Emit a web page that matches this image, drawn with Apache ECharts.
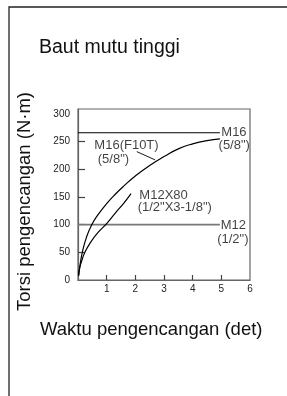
<!DOCTYPE html>
<html>
<head>
<meta charset="utf-8">
<script src="https://cdn.jsdelivr.net/npm/echarts@6/dist/echarts.min.js"></script>
<style>
  html, body { margin: 0; padding: 0; background: #fff; }
  #chart { width: 287px; height: 396px; }
</style>
</head>
<body>
<div id="chart"></div>
<script>
// curva torsi vs waktu
const m16CurveX = [0.02, 0.08, 0.15, 0.3, 0.48, 0.7, 1.0, 1.3, 1.6, 2.0, 2.5, 3.0, 3.5, 4.0, 4.5, 4.95];
const m16CurveY = [8, 30, 50, 78, 100, 118, 138, 155, 170, 188, 207, 223, 237, 246, 252, 255];
const m12CurveX = [0.02, 0.06, 0.12, 0.24, 0.45, 0.7, 1.0, 1.3, 1.6, 1.85];
const m12CurveY = [8, 22, 33, 50, 69, 86, 102, 121, 139, 156];
// batas torsi (garis horizontal)
const m16Limit = 266;
const m12Limit = 100;
const limitEndX = 4.95;
// garis penunjuk label M16(F10T)
const leaderX = [2.05, 2.69];
const leaderY = [232, 217];
// label di dalam grafik
const labelTexts = ['M16(F10T)', '(5/8")', 'M16', '(5/8")', 'M12X80', '(1/2"X3-1/8")', 'M12', '(1/2")'];
const labelX = [0.57, 0.69, 5.44, 5.45, 2.14, 2.08, 5.42, 5.40];
const labelY = [243, 217, 266, 243, 152, 131, 99, 74];
const labelAlign = ['left', 'left', 'center', 'center', 'left', 'left', 'center', 'center'];
// sumbu
const xTickLabels = [1, 2, 3, 4, 5, 6];
const xTicks = [1, 2, 3, 4, 5];
const yTickLabels = [0, 50, 100, 150, 200, 250, 300];
const yTicks = [50, 100, 150, 200, 250];

const zip = (xs, ys) => xs.map((x, i) => [x, ys[i]]);

const chart = echarts.init(document.getElementById('chart'), null, { renderer: 'canvas' });

const lineStyleBlack = { color: '#000', width: 1.2 };

const option = {
  animation: false,
  textStyle: { fontFamily: '"Liberation Sans", Arial, sans-serif' },
  grid: {
    left: 78, right: 37, top: 109, bottom: 116,
    show: true, borderColor: '#666', borderWidth: 1.2, backgroundColor: 'transparent'
  },
  xAxis: {
    type: 'value', min: 0, max: 6,
    axisLine: { lineStyle: { color: '#666', width: 1.2 } },
    axisTick: { show: true, inside: true, length: 5, customValues: xTicks, lineStyle: { color: '#444', width: 1.2 } },
    axisLabel: { customValues: xTickLabels, fontSize: 10, color: '#222', margin: 4 },
    splitLine: { show: false }
  },
  yAxis: {
    type: 'value', min: 0, max: 309,
    axisLine: { show: true, lineStyle: { color: '#666', width: 1.2 } },
    axisTick: { show: true, inside: true, length: 7, customValues: yTicks, lineStyle: { color: '#444', width: 1.2 } },
    axisLabel: { customValues: yTickLabels, fontSize: 10, color: '#222', margin: 8 },
    splitLine: { show: false }
  },
  graphic: [
    {
      type: 'rect', silent: true,
      shape: { x: 9, y: 7, width: 400, height: 500 },
      style: { fill: 'none', stroke: '#222', lineWidth: 1.3 }
    },
    {
      type: 'text', x: 39, y: 48,
      style: { text: 'Baut mutu tinggi', fill: '#111', verticalAlign: 'middle',
        font: '19.5px "Liberation Sans", Arial, sans-serif' }
    },
    {
      type: 'text', x: 40, y: 329.5,
      style: { text: 'Waktu pengencangan (det)', fill: '#111', verticalAlign: 'middle',
        font: '18.5px "Liberation Sans", Arial, sans-serif' }
    },
    {
      type: 'text', x: 25, y: 201.5, rotation: Math.PI / 2,
      style: { text: 'Torsi pengencangan (N·m)', fill: '#111', align: 'center', verticalAlign: 'middle',
        font: '18.5px "Liberation Sans", Arial, sans-serif' }
    }
  ],
  series: [
    {
      name: 'M16 limit', type: 'line', symbol: 'none',
      data: [[0, m16Limit], [limitEndX, m16Limit]],
      lineStyle: { color: '#000', width: 1.1 }
    },
    {
      name: 'M12 limit', type: 'line', symbol: 'none',
      data: [[0, m12Limit], [limitEndX, m12Limit]],
      lineStyle: { color: '#777', width: 1.6 }
    },
    {
      name: 'M16(F10T)', type: 'line', symbol: 'none', smooth: true,
      data: zip(m16CurveX, m16CurveY), lineStyle: lineStyleBlack
    },
    {
      name: 'M12X80', type: 'line', symbol: 'none', smooth: true,
      data: zip(m12CurveX, m12CurveY), lineStyle: lineStyleBlack
    },
    {
      name: 'leader', type: 'line', symbol: 'none',
      data: zip(leaderX, leaderY), lineStyle: { color: '#000', width: 0.9 }
    },
    {
      name: 'labels', type: 'scatter', symbolSize: 1,
      itemStyle: { color: 'rgba(0,0,0,0)' },
      data: labelTexts.map((t, i) => ({
        name: t,
        value: [labelX[i], labelY[i]],
        label: { align: labelAlign[i] }
      })),
      label: {
        show: true, position: 'inside', formatter: '{b}',
        fontSize: 13, color: '#111', verticalAlign: 'middle'
      }
    }
  ]
};

chart.setOption(option);
</script>
</body>
</html>
